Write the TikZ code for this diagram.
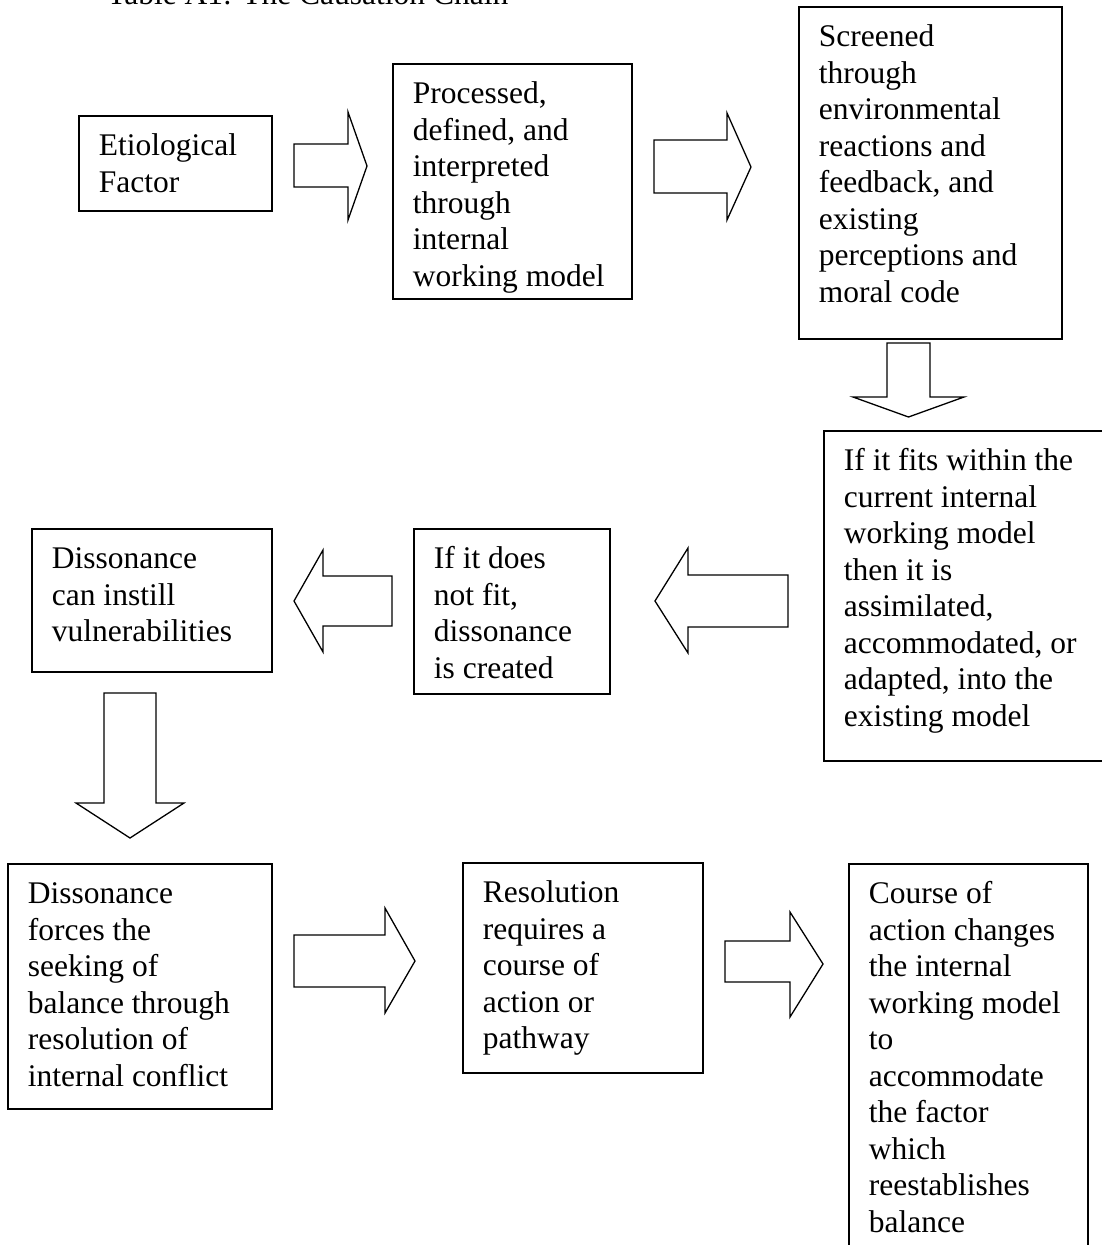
\documentclass[tikz,border=0pt]{standalone}
\usepackage{fontspec}
\setmainfont{Liberation Serif}
\tikzset{
  txtfont/.style={font=\fontsize{31.5}{36.5}\selectfont},
  box/.style={draw, line width=1.8pt, anchor=north west, inner xsep=20pt, inner ysep=14.4pt, txtfont},
  barrow/.style={draw, line width=1.3pt, line join=miter},
}
\newcommand{\tb}[6]{\node[box] (#1) at (#2,#3) {\parbox[t][\dimexpr#5pt-28.8pt\relax][t]{\dimexpr#4pt-40pt\relax}{\raggedright\strut #6}};}
\begin{document}
\begin{tikzpicture}[x=1pt,y=-1pt]
\clip (0,0) rectangle (1102,1245);
\node[txtfont, anchor=base west, inner sep=0] (title) at (107,4) {Table A1: The Causation Chain};
\tb{b1}{78}{115}{193}{95}{Etiological\\Factor}
\tb{b2}{392}{63}{239}{235}{Processed,\\defined, and\\interpreted\\through\\internal\\working model}
\tb{b3}{798}{6}{263}{332}{Screened\\through\\environmental\\reactions and\\feedback, and\\existing\\perceptions and\\moral code}
\tb{b4}{823}{430}{279}{330}{If it fits within the\\current internal\\working model\\then it is\\assimilated,\\accommodated, or\\adapted, into the\\existing model}
\tb{b5}{413}{528}{196}{165}{If it does\\not fit,\\dissonance\\is created}
\tb{b6}{31}{528}{240}{143}{Dissonance\\can instill\\vulnerabilities}
\tb{b7}{7}{863}{264}{245}{Dissonance\\forces the\\seeking of\\balance through\\resolution of\\internal conflict}
\tb{b8}{462}{862}{240}{210}{Resolution\\requires a\\course of\\action or\\pathway}
\tb{b9}{848}{863}{239}{420}{Course of\\action changes\\the internal\\working model\\to\\accommodate\\the factor\\which\\reestablishes\\balance}
% block arrows
\draw[barrow] (294,144) -- (348,144) -- (348,112) -- (367,166) -- (348,220) -- (348,187) -- (294,187) -- cycle;
\draw[barrow] (654,140) -- (727,140) -- (727,113) -- (751,167) -- (727,220) -- (727,193) -- (654,193) -- cycle;
\draw[barrow] (887,343) -- (930,343) -- (930,397) -- (964,397) -- (908.5,417) -- (853,397) -- (887,397) -- cycle;
\draw[barrow] (788,575) -- (688,575) -- (688,548) -- (655,601) -- (688,653) -- (688,627) -- (788,627) -- cycle;
\draw[barrow] (392,576) -- (323,576) -- (323,550) -- (294,601) -- (323,652) -- (323,626) -- (392,626) -- cycle;
\draw[barrow] (104,693) -- (156,693) -- (156,803) -- (184,803) -- (130,838) -- (76,803) -- (104,803) -- cycle;
\draw[barrow] (294,935) -- (385,935) -- (385,908) -- (415,961) -- (385,1013) -- (385,987) -- (294,987) -- cycle;
\draw[barrow] (725,941) -- (790,941) -- (790,912) -- (823,964) -- (790,1017) -- (790,982) -- (725,982) -- cycle;
\end{tikzpicture}
\end{document}
